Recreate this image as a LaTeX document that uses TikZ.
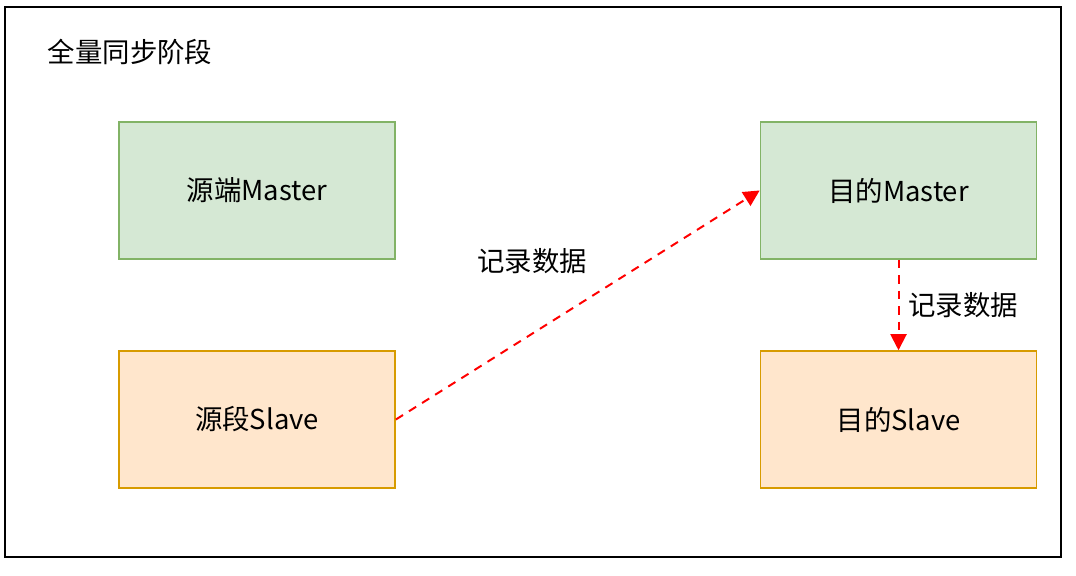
\documentclass[tikz,border=0pt]{standalone}
\usepackage{fontspec}
\setmainfont{Noto Sans CJK SC}
\usetikzlibrary{arrows.meta,positioning}
\definecolor{boxgreen}{HTML}{D5E8D4}
\definecolor{linegreen}{HTML}{82B366}
\definecolor{boxpeach}{HTML}{FFE6CC}
\definecolor{linepeach}{HTML}{D79B00}
\tikzset{
  master/.style={
    draw=linegreen,
    fill=boxgreen,
    line width=1.2pt,
    align=center,
    minimum width=6.9cm,
    minimum height=3.42cm,
    font=\fontsize{19.5}{23}\selectfont
  },
  slave/.style={
    master,
    draw=linepeach,
    fill=boxpeach
  },
  lbl/.style={
    font=\fontsize{19.5}{23}\selectfont
  },
  arrow/.style={
    -{Triangle[length=4mm,width=4mm]},
    dashed,
    dash pattern=on 6pt off 5pt,
    line width=1.4pt,
    red
  }
}
\begin{document}
\begin{tikzpicture}[x=0.025cm,y=-0.025cm]
\useasboundingbox (0,0) rectangle (1076,576);
\draw[line width=1.4pt] (5,7) rectangle (1061,557);
\node[lbl] (title) at (130,52) {全量同步阶段};
\node[master] (srcm) at (257,190.5) {源端Master};
\node[slave] (srcs) at (257,419.5) {源段Slave};
\node[master] (dstm) at (898.5,190.5) {目的Master};
\node[slave] (dsts) at (898.5,419.5) {目的Slave};
\draw[arrow] (srcs.east) -- (dstm.west);
\draw[arrow] (dstm.south) -- (dsts.north);
\node[lbl] (rec1) at (532,261) {记录数据};
\node[lbl] (rec2) at (963,305) {记录数据};
\end{tikzpicture}
\end{document}
